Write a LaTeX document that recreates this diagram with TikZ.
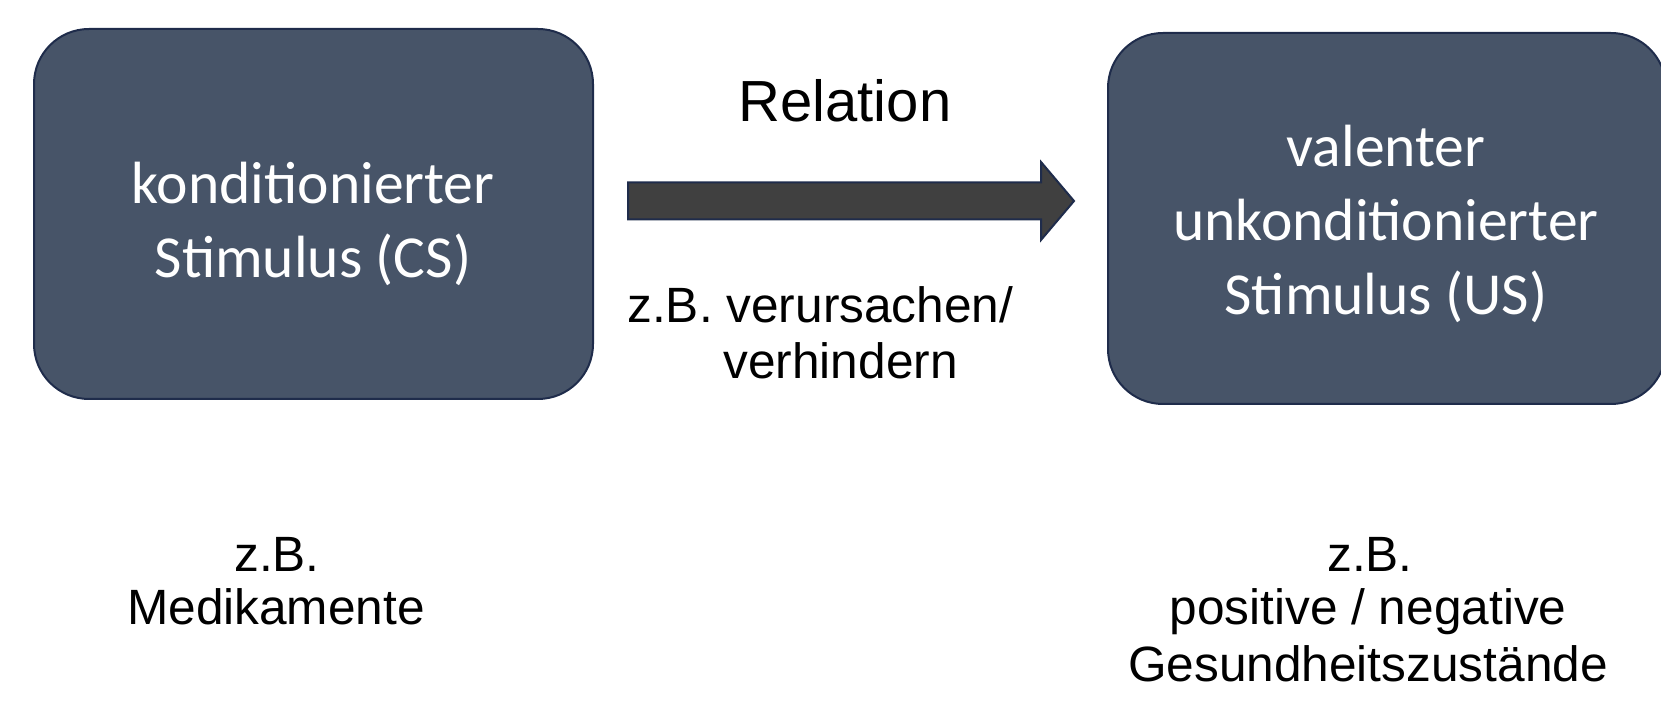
\documentclass[tikz,border=0pt]{standalone}
\usepackage{fontspec}
\setmainfont{Liberation Sans}
\newfontfamily\calfont{Carlito}
\usetikzlibrary{calc}
\definecolor{boxfill}{HTML}{475468}
\definecolor{boxline}{HTML}{1F2C4B}
\definecolor{arrowfill}{HTML}{404040}
\tikzset{
  stimbox/.style={draw=boxline, line width=1pt, fill=boxfill, rounded corners=27.5pt, inner sep=0pt},
  boxtext/.style={text=white, align=center, font=\calfont\fontsize{29.8}{37}\selectfont, inner sep=0pt},
  plaintext/.style={text=black, align=center, font=\fontsize{24.8}{27}\selectfont, inner sep=0pt},
  reltext/.style={text=black, font=\fontsize{29}{34}\selectfont, inner sep=0pt},
  blockarrow/.style={draw=boxline, line width=1pt, fill=arrowfill, line join=miter}
}
\begin{document}
\begin{tikzpicture}[x=0.5pt,y=-0.5pt]
\useasboundingbox (0,0) rectangle (1661,704);
\clip (0,0) rectangle (1661,704);
% boxes
\node[stimbox, minimum width=279.5pt, minimum height=185pt] (cs) at (313.5,214) {};
\node[stimbox, minimum width=279pt, minimum height=185.5pt] (us) at (1387,218.5) {};
\node[boxtext] (cstext) at (313,224) {konditionierter\\Stimulus (CS)};
\node[boxtext] (ustext) at (1386,224) {valenter\\unkonditionierter\\Stimulus (US)};
% arrow
\coordinate (as) at ($(cs.east)+(34,-13)$);
\coordinate (ae) at ($(us.west)+(-33,-17.5)$);
\draw[blockarrow] ($(as)+(0,-18.5)$) -- ($(ae)+(-33,-18.5)$) -- ($(ae)+(-33,-39)$) -- (ae)
  -- ($(ae)+(-33,39)$) -- ($(ae)+(-33,18.5)$) -- ($(as)+(0,18.5)$) -- cycle;
% labels
\node[reltext, anchor=base] (rel) at (845,122) {Relation};
\node[plaintext, anchor=base west, align=left, font=\fontsize{24.8}{28}\selectfont] (ex) at (627,379) {z.B. verursachen/\\\hspace*{48pt}verhindern};
\node[plaintext, anchor=base] (csex1) at (277,572) {z.B.};
\node[plaintext, anchor=base] (csex2) at (276,625) {Medikamente};
\node[plaintext, anchor=base] (usex1) at (1370,572) {z.B.};
\node[plaintext, anchor=base] (usex2) at (1368,625) {positive / negative};
\node[plaintext, anchor=base] (usex3) at (1368,682) {Gesundheitszustände};
\end{tikzpicture}
\end{document}
